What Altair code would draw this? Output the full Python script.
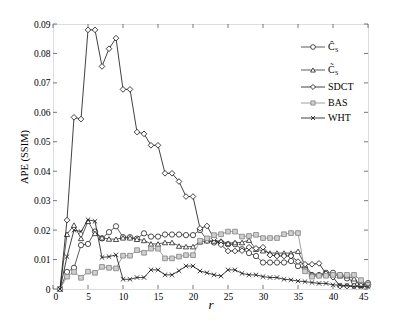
import altair as alt
import pandas as pd

# ---- data ----
r = list(range(1, 46))

c_hat = [0, 0.0058, 0.0072, 0.0149, 0.0153, 0.0195, 0.0172, 0.0193, 0.0213, 0.0176,
         0.0176, 0.0171, 0.0189, 0.0178, 0.0178, 0.0185, 0.0185, 0.0185, 0.0183, 0.0183,
         0.0200, 0.0165, 0.0158, 0.0158, 0.0152, 0.0152, 0.0135, 0.0122, 0.0112, 0.0090,
         0.0090, 0.0090, 0.0090, 0.0095, 0.0078, 0.0070, 0.0047, 0.0047, 0.0055, 0.0055,
         0.0047, 0.0036, 0.0025, 0.0018, 0.0020]

c_tilde = [0, 0.0186, 0.0217, 0.0172, 0.0230, 0.0189, 0.0174, 0.0170, 0.0169, 0.0174,
           0.0174, 0.0169, 0.0165, 0.0153, 0.0153, 0.0158, 0.0158, 0.0146, 0.0144, 0.0144,
           0.0160, 0.0164, 0.0163, 0.0163, 0.0155, 0.0158, 0.0158, 0.0166, 0.0135, 0.0130,
           0.0122, 0.0122, 0.0122, 0.0122, 0.0128, 0.0080, 0.0050, 0.0050, 0.0050, 0.0048,
           0.0045, 0.0045, 0.0035, 0.0012, 0.0015]

sdct = [0, 0.0234, 0.0583, 0.0577, 0.0880, 0.0880, 0.0756, 0.0816, 0.0852, 0.0678,
        0.0678, 0.0533, 0.0527, 0.0488, 0.0488, 0.0393, 0.0393, 0.0365, 0.0314, 0.0314,
        0.0206, 0.0214, 0.0172, 0.0150, 0.0129, 0.0129, 0.0130, 0.0142, 0.0138, 0.0142,
        0.0115, 0.0112, 0.0112, 0.0112, 0.0093, 0.0084, 0.0084, 0.0087, 0.0052, 0.0040,
        0.0010, 0.0010, 0.0010, 0.0012, 0.0015]

bas = [0, 0.0042, 0.0058, 0.0038, 0.0059, 0.0055, 0.0075, 0.0072, 0.0070, 0.0113,
       0.0113, 0.0132, 0.0123, 0.0137, 0.0137, 0.0104, 0.0104, 0.0110, 0.0115, 0.0115,
       0.0164, 0.0172, 0.0183, 0.0186, 0.0195, 0.0195, 0.0178, 0.0180, 0.0184, 0.0173,
       0.0173, 0.0173, 0.0186, 0.0190, 0.0190, 0.0060, 0.0042, 0.0045, 0.0045, 0.0048,
       0.0048, 0.0048, 0.0048, 0.0030, 0.0014]

wht = [0, 0.0110, 0.0200, 0.0195, 0.0235, 0.0230, 0.0107, 0.0110, 0.0116, 0.0033,
       0.0033, 0.0039, 0.0039, 0.0065, 0.0065, 0.0048, 0.0048, 0.0062, 0.0078, 0.0078,
       0.0061, 0.0055, 0.0048, 0.0044, 0.0065, 0.0065, 0.0053, 0.0048, 0.0048, 0.0042,
       0.0039, 0.0039, 0.0033, 0.0031, 0.0027, 0.0025, 0.0022, 0.0019, 0.0019, 0.0014,
       0.0013, 0.0012, 0.0008, 0.0008, 0.0008]

legend_main = ["\u0108", "C\u0303", "SDCT", "BAS", "WHT"]
legend_sub = ["S", "S", "", "", ""]
x_ticks = list(range(0, 46, 5))
y_ticks = [0, 0.01, 0.02, 0.03, 0.04, 0.05, 0.06, 0.07, 0.08, 0.09]

# ---- styling ----
W, H = 315, 265
FONT = "Liberation Serif"
FRAME = "#555555"
XPATH = "M-1,-1L1,1M-1,1L1,-1"

styles = [
    dict(line="#333333", shape="circle", fill="white", stroke="#222222", size=28),
    dict(line="#333333", shape="triangle-up", fill="white", stroke="#222222", size=28),
    dict(line="#111111", shape="diamond", fill="white", stroke="#111111", size=32),
    dict(line="#888888", shape="square", fill="#d0d0d0", stroke="#808080", size=22),
    dict(line="#111111", shape=XPATH, fill="none", stroke="#111111", size=20),
]
series = [c_hat, c_tilde, sdct, bas, wht]

xs = alt.Scale(domain=[0, 45], nice=False, zero=False)
ys = alt.Scale(domain=[0, 0.09], nice=False, zero=False)

x_axis = alt.Axis(values=x_ticks, labelFont=FONT, labelFontSize=9.5, labelColor="black",
                  tickSize=0, domain=False, grid=False, labelPadding=2,
                  title="r", titleFont=FONT, titleFontStyle="italic", titleFontWeight="normal",
                  titleFontSize=13, titlePadding=-2, titleColor="black")
y_axis = alt.Axis(values=y_ticks, labelFont=FONT, labelFontSize=9.5, labelColor="black",
                  tickSize=0, domain=False, grid=False, labelPadding=3,
                  labelExpr="datum.value == 0 ? '0' : format(datum.value, '.2f')",
                  title="APE (SSIM)", titleFont=FONT, titleFontWeight="normal",
                  titleFontSize=10.5, titlePadding=4, titleColor="black")

layers = []
for i, (vals, st) in enumerate(zip(series, styles)):
    df = pd.DataFrame({"r": r, "v": vals})
    enc_x = alt.X("r:Q", scale=xs, axis=x_axis)
    enc_y = alt.Y("v:Q", scale=ys, axis=y_axis)
    base = alt.Chart(df).encode(x=enc_x, y=enc_y)
    layers.append(base.mark_line(color=st["line"], strokeWidth=0.8))
    layers.append(base.mark_point(shape=st["shape"], size=st["size"], filled=False,
                                  fill=st["fill"], stroke=st["stroke"], strokeWidth=0.8,
                                  opacity=1))

# inward ticks on all four sides
xt = pd.DataFrame({"t": x_ticks})
yt = pd.DataFrame({"t": y_ticks})
tick_kw = dict(color=FRAME, strokeWidth=0.8)
layers.append(alt.Chart(xt).mark_rule(**tick_kw).encode(
    x=alt.X("t:Q", scale=xs, axis=x_axis), y=alt.value(H), y2=alt.value(H - 4)))
layers.append(alt.Chart(xt).mark_rule(**tick_kw).encode(
    x=alt.X("t:Q", scale=xs, axis=x_axis), y=alt.value(0), y2=alt.value(4)))
layers.append(alt.Chart(yt).mark_rule(**tick_kw).encode(
    y=alt.Y("t:Q", scale=ys, axis=y_axis), x=alt.value(0), x2=alt.value(4)))
layers.append(alt.Chart(yt).mark_rule(**tick_kw).encode(
    y=alt.Y("t:Q", scale=ys, axis=y_axis), x=alt.value(W), x2=alt.value(W - 4)))

# legend inside plot (upper right)
row_y = [23, 46, 63, 79, 94]
lx0, lx1, lm, lt = 248, 272, 260, 275
one = pd.DataFrame({"k": [0]})
for i, st in enumerate(styles):
    yy = row_y[i]
    layers.append(alt.Chart(one).mark_rule(color=st["line"], strokeWidth=0.8).encode(
        x=alt.value(lx0), x2=alt.value(lx1), y=alt.value(yy)))
    layers.append(alt.Chart(one).mark_point(shape=st["shape"], size=st["size"] * 0.8,
                                            filled=False, fill=st["fill"], stroke=st["stroke"],
                                            strokeWidth=0.8, opacity=1).encode(
        x=alt.value(lm), y=alt.value(yy)))
    layers.append(alt.Chart(one).mark_text(text=legend_main[i], font=FONT, fontSize=10,
                                           align="left", baseline="middle", color="black").encode(
        x=alt.value(lt), y=alt.value(yy)))
    if legend_sub[i]:
        layers.append(alt.Chart(one).mark_text(text=legend_sub[i], font=FONT, fontSize=6,
                                               align="left", baseline="middle",
                                               color="black").encode(
            x=alt.value(lt + 7), y=alt.value(yy + 3)))

chart = alt.layer(*layers).properties(
    width=W, height=H,
    autosize=alt.AutoSizeParams(type="none"),
    padding={"left": 45, "top": 16, "right": 24, "bottom": 28},
).configure_view(stroke=FRAME, strokeWidth=0.8).configure(background="white")

chart.save("out.html", embed_options={"renderer": "svg", "actions": False})
